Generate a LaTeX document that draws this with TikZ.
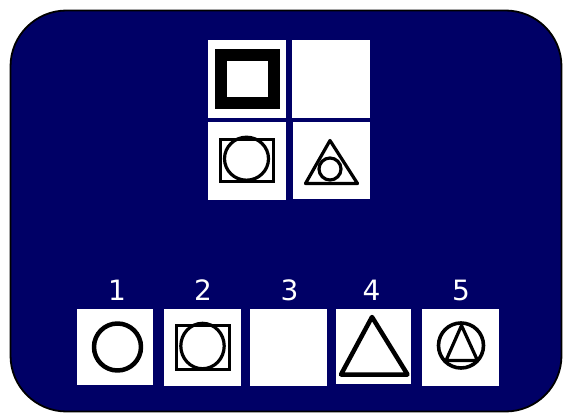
\documentclass[tikz,border=0pt]{standalone}
\usepackage{fontspec}
\setmainfont{DejaVu Sans}
\definecolor{bgnavy}{RGB}{0,0,102}
\begin{document}
\begin{tikzpicture}[x=1pt,y=-1pt,
  panel/.style={fill=white,draw=none,inner sep=0pt,minimum width=#1,minimum height=#1},
  sym/.style={draw=black,line width=3.2pt,line join=miter},
  symthick/.style={draw=black,line width=4.5pt,line join=round},
  numlabel/.style={text=white,font=\fontsize{28}{28}\selectfont,inner sep=0pt}]
\useasboundingbox (0,0) rectangle (564,414);
\draw[fill=bgnavy,draw=black,line width=1.8pt,rounded corners=56pt] (10.5,10.5) rectangle (561.5,411.5);
% top grid
\node[panel=78pt] (q1) at (246.5,79) {};
\node[panel=78pt] (q2) at (330.5,79) {};
\node[panel=78pt] (q3) at (246.5,161) {};
\node[panel=77pt] (q4) at (331.5,160.5) {};
% q1: thick square
\draw[black,line width=11.8pt] (221,55) rectangle (274,103);
% q3: rectangle with ellipse
\draw[sym] (220.8,139.8) rectangle (273.5,181.8);
\draw[sym] (246.5,158.7) ellipse [x radius=22, y radius=21.5];
% q4: triangle with circle
\draw[sym,line join=round] (330,140.5) -- (357.5,183.5) -- (305.5,183.5) -- cycle;
\draw[sym] (330,169) circle [radius=11];
% bottom options
\node[panel=76pt] (o1) at (115,347) {};
\node[panel=77pt] (o2) at (202.5,347.5) {};
\node[panel=77pt] (o3) at (288.5,347) {};
\node[panel=75pt] (o4) at (373.5,346.5) {};
\node[panel=77pt] (o5) at (460.5,347.5) {};
\node[numlabel] (l1) at (117,290) {1};
\node[numlabel] (l2) at (203,290) {2};
\node[numlabel] (l3) at (289.5,290) {3};
\node[numlabel] (l4) at (371.5,290) {4};
\node[numlabel] (l5) at (461,290) {5};
% o1: circle
\draw[symthick] (117.5,347) circle [radius=23.5];
% o2: rectangle with ellipse
\draw[sym] (176.5,325.8) rectangle (229.2,369.2);
\draw[sym] (202.5,346) ellipse [x radius=21.7, y radius=22.7];
% o4: triangle
\draw[symthick] (372,317) -- (407.5,374.5) -- (341,374.5) -- cycle;
% o5: circle with triangle
\draw[sym,line width=3.6pt] (461,345.5) circle [radius=22.5];
\draw[sym,line join=round] (461.5,325.5) -- (477.5,360.5) -- (446,360.5) -- cycle;
\end{tikzpicture}
\end{document}
